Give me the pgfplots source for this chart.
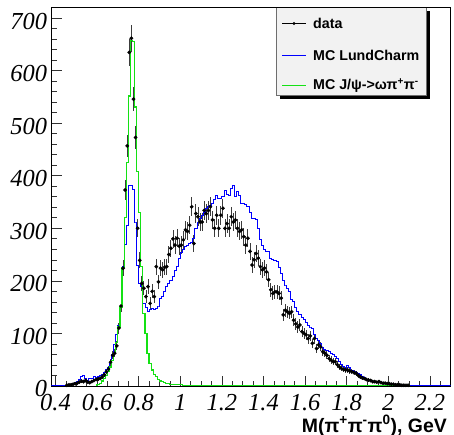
\documentclass[border=0pt]{standalone}
\usepackage{pgfplots}
\pgfplotsset{compat=1.18}
\usepackage{pgfplotstable}
\usepackage{fontspec}
\setmainfont{Liberation Serif}
\newfontfamily\lsans{Liberation Sans}
\definecolor{hgreen}{RGB}{20,225,20}
\definecolor{hblue}{RGB}{0,0,255}
\definecolor{legfill}{RGB}{242,242,242}
\definecolor{legborder}{RGB}{110,110,110}
\definecolor{errgray}{RGB}{60,60,60}
\definecolor{tickgray}{RGB}{50,50,50}

\pgfplotstableread{
x d e
0.455 1 1
0.465 2 1.4
0.475 2 1.4
0.485 3 1.7
0.495 4 2
0.505 5 2.2
0.515 7 2.6
0.525 9 3
0.535 8 2.8
0.545 10 3.2
0.555 7 2.6
0.565 6 2.4
0.575 8 2.8
0.585 10 3.2
0.595 12 3.5
0.605 13 3.6
0.615 14 3.7
0.625 17 4.1
0.635 21 4.6
0.645 27 5.2
0.655 32 5.7
0.665 45 6.7
0.675 58 7.6
0.685 62 7.9
0.695 76 8.7
0.705 110 10.5
0.715 152 12.3
0.725 224 15
0.735 373 19.3
0.745 457 21.4
0.755 635 25.2
0.765 662 25.7
0.775 546 23.4
0.785 473 21.7
0.795 300 17.3
0.805 239 15.5
0.815 195 14
0.825 186 13.6
0.835 170 13
0.845 189 13.7
0.855 157 12.5
0.865 180 13.4
0.875 170 13
0.885 227 15
0.895 198 14
0.905 224 15
0.915 221 14.9
0.925 226 15
0.935 227 15
0.945 250 15.8
0.955 262 16.2
0.965 280 16.7
0.975 268 16.4
0.985 281 16.8
0.995 266 16.3
1.005 268 16.4
1.015 278 16.7
1.025 297 17.2
1.035 294 17.1
1.045 306 17.5
1.055 341 18.5
1.065 271 16.5
1.075 328 18.1
1.085 322 17.9
1.095 312 17.7
1.105 312 17.7
1.115 334 18.3
1.125 328 18.1
1.135 334 18.3
1.145 341 18.5
1.155 316 17.8
1.165 300 17.3
1.175 325 18
1.185 300 17.3
1.195 325 18
1.205 338 18.4
1.215 300 17.3
1.225 309 17.6
1.235 300 17.3
1.245 322 17.9
1.255 312 17.7
1.265 316 17.8
1.275 300 17.3
1.285 294 17.1
1.295 297 17.2
1.305 284 16.9
1.315 268 16.4
1.325 281 16.8
1.335 256 16
1.345 230 15.2
1.355 240 15.5
1.365 252 15.9
1.375 243 15.6
1.385 227 15.1
1.395 221 14.9
1.405 224 15
1.415 217 14.7
1.425 202 14.2
1.435 183 13.5
1.445 176 13.3
1.455 179 13.4
1.465 179 13.4
1.475 176 13.3
1.485 167 12.9
1.495 135 11.6
1.505 144 12
1.515 141 11.9
1.525 138 11.7
1.535 141 11.9
1.545 125 11.2
1.555 118 10.9
1.565 112 10.6
1.575 116 10.8
1.585 103 10.1
1.595 100 10
1.605 97 9.8
1.615 90 9.5
1.625 95 9.7
1.635 81 9
1.645 90 9.5
1.655 71 8.4
1.665 78 8.8
1.675 74 8.6
1.685 65 8.1
1.695 62 7.9
1.705 58 7.6
1.715 52 7.2
1.725 49 7
1.735 46 6.8
1.745 46 6.8
1.755 40 6.3
1.765 36 6
1.775 33 5.7
1.785 31 5.6
1.795 30 5.5
1.805 30 5.5
1.815 28 5.3
1.825 27 5.2
1.835 25 5
1.845 24 4.9
1.855 20 4.5
1.865 17 4.1
1.875 15 3.9
1.885 14 3.7
1.895 12 3.5
1.905 11 3.3
1.915 10 3.2
1.925 8 2.8
1.935 8 2.8
1.945 7 2.6
1.955 8 2.8
1.965 6 2.4
1.975 5 2.2
1.985 5 2.2
1.995 4 2
2.005 4 2
2.015 3 1.7
2.025 3 1.7
2.035 2 1.4
2.045 2 1.4
2.055 2 1.4
2.065 1 1
2.075 1 1
2.085 1 1
2.095 1 1
}\datatab

\pgfplotstableread{
x b
0.38 0
0.445 0
0.455 1
0.465 2
0.475 3
0.485 5
0.495 6
0.505 8
0.515 12
0.525 18
0.535 20
0.545 14
0.555 11
0.565 14
0.575 15
0.585 17
0.595 16
0.605 17
0.615 20
0.625 22
0.635 25
0.645 32
0.655 35
0.665 42
0.675 60
0.685 78
0.695 97
0.705 116
0.715 152
0.725 227
0.735 270
0.745 306
0.755 382
0.765 382
0.775 375
0.785 312
0.795 230
0.805 195
0.815 190
0.825 157
0.835 150
0.845 141
0.855 146
0.865 148
0.875 146
0.885 148
0.895 152
0.905 167
0.915 170
0.925 180
0.935 189
0.945 195
0.955 200
0.965 208
0.975 220
0.985 228
0.995 243
1.005 255
1.015 259
1.025 266
1.035 268
1.045 271
1.055 274
1.065 280
1.075 300
1.085 312
1.095 319
1.105 325
1.115 330
1.125 338
1.135 341
1.145 343
1.155 347
1.165 355
1.175 363
1.185 357
1.195 357
1.205 360
1.215 373
1.225 365
1.235 363
1.245 376
1.255 382
1.265 360
1.275 370
1.285 363
1.295 347
1.305 347
1.315 345
1.325 341
1.335 330
1.345 319
1.355 318
1.365 316
1.375 300
1.385 278
1.395 268
1.405 259
1.415 256
1.425 256
1.435 242
1.445 240
1.455 238
1.465 237
1.475 225
1.485 215
1.495 200
1.505 192
1.515 186
1.525 180
1.535 165
1.545 160
1.555 150
1.565 141
1.575 136
1.585 130
1.595 127
1.605 120
1.615 116
1.625 112
1.635 109
1.645 98
1.655 90
1.665 86
1.675 80
1.685 74
1.695 70
1.705 67
1.715 65
1.725 62
1.735 60
1.745 56
1.755 52
1.765 46
1.775 40
1.785 37
1.795 34
1.805 38
1.815 36
1.825 30
1.835 28
1.845 26
1.855 24
1.865 21
1.875 18
1.885 16
1.895 13
1.905 11
1.915 10
1.925 9
1.935 8
1.945 7
1.955 6
1.965 6
1.975 5
1.985 5
1.995 4
2.005 3
2.015 3
2.025 2
2.035 2
2.045 2
2.055 1
2.065 1
2.075 1
2.085 1
2.095 0
2.30 0
}\bluetab

\pgfplotstableread{
x g
0.595 0
0.605 3
0.615 5
0.625 9
0.635 14
0.645 20
0.655 28
0.665 36
0.675 48
0.685 62
0.695 82
0.705 112
0.715 150
0.725 225
0.735 320
0.745 425
0.755 552
0.765 658
0.775 656
0.785 531
0.795 408
0.805 330
0.815 227
0.825 138
0.835 100
0.845 62
0.855 42
0.865 30
0.875 22
0.885 17
0.895 12
0.905 9
0.915 8
0.925 6
0.935 5
0.945 4
0.955 3
0.965 3
0.975 2
0.985 3
0.995 2
1.005 2
1.015 1
1.025 1
1.035 0
1.045 1
1.055 0
1.155 0
1.165 1
1.175 1
1.185 0
2.105 0
}\greentab

\begin{document}
\begin{tikzpicture}
\useasboundingbox (0,0) rectangle (454bp,435bp);
\fill[black] (280bp,336bp) rectangle (430bp,424bp);
\fill[legfill] (276bp,340bp) rectangle (426bp,428bp);
\draw[legborder, line width=0.5bp] (276bp,340bp) rectangle (426bp,428bp);
\begin{axis}[
  at={(51.3bp,48.3bp)}, anchor=south west,
  scale only axis, width=399.4bp, height=379.7bp,
  xmin=0.38, xmax=2.3, ymin=-1.7, ymax=721.5,
  axis line style={black, line width=0.8bp},
  tick align=inside, tick pos=left,
  major tick length=11bp, minor tick length=5.5bp,
  every tick/.style={tickgray, line width=0.6bp},
  xtick={0.4,0.6,0.8,1,1.2,1.4,1.6,1.8,2,2.2},
  minor xtick={0.45,0.5,0.55,0.65,0.7,0.75,0.85,0.9,0.95,1.05,1.1,1.15,1.25,1.3,1.35,1.45,1.5,1.55,1.65,1.7,1.75,1.85,1.9,1.95,2.05,2.1,2.15,2.25},
  ytick={0,100,200,300,400,500,600,700},
  minor y tick num=4,
  /pgf/number format/assume math mode=true,
  ticklabel style={font=\fontsize{24.5}{24.5}\selectfont\itshape},
  xticklabel style={inner sep=0pt, yshift=-7bp},
  yticklabel style={inner sep=0pt, xshift=-4bp, yshift=-3bp},
  xlabel={M(π\textsuperscript{+}π\textsuperscript{-}π\textsuperscript{0}), GeV},
  xlabel style={at={(axis description cs:0.9907,0)}, anchor=base east, yshift=-45.3bp, inner sep=0pt, font=\lsans\bfseries\fontsize{19.5}{19.5}\selectfont},
]
\addplot[only marks, mark=*, mark size=1.7bp, black, mark options={fill=black, draw=black},
  error bars/.cd, y dir=both, y explicit, error mark=none,
  error bar style={errgray, line width=0.9bp}]
  table[x=x, y=d, y error=e] {\datatab};
\addplot[const plot mark mid, draw=hblue, line width=0.8bp]
  table[x=x, y=b] {\bluetab};
\addplot[const plot mark mid, draw=hgreen, line width=1.2bp]
  table[x=x, y=g] {\greentab};
\end{axis}
% legend keys and texts
\draw[black, line width=0.7bp] (282bp,411.5bp) -- (306bp,411.5bp);
\fill[black] (294bp,411.5bp) circle (1.7bp);
\draw[hblue, line width=0.9bp] (282bp,379.5bp) -- (306bp,379.5bp);
\draw[hgreen, line width=1.6bp] (282bp,349.5bp) -- (306bp,349.5bp);
\begin{scope}[every node/.style={anchor=base west, inner sep=0pt, font=\lsans\bfseries\fontsize{14.3}{14.3}\selectfont}]
\node at (313bp,406.5bp) {data};
\node at (313bp,374bp) {MC LundCharm};
\node at (313bp,345bp) {MC J/ψ->ωπ\textsuperscript{+}π\textsuperscript{-}};
\end{scope}
\end{tikzpicture}
\end{document}
